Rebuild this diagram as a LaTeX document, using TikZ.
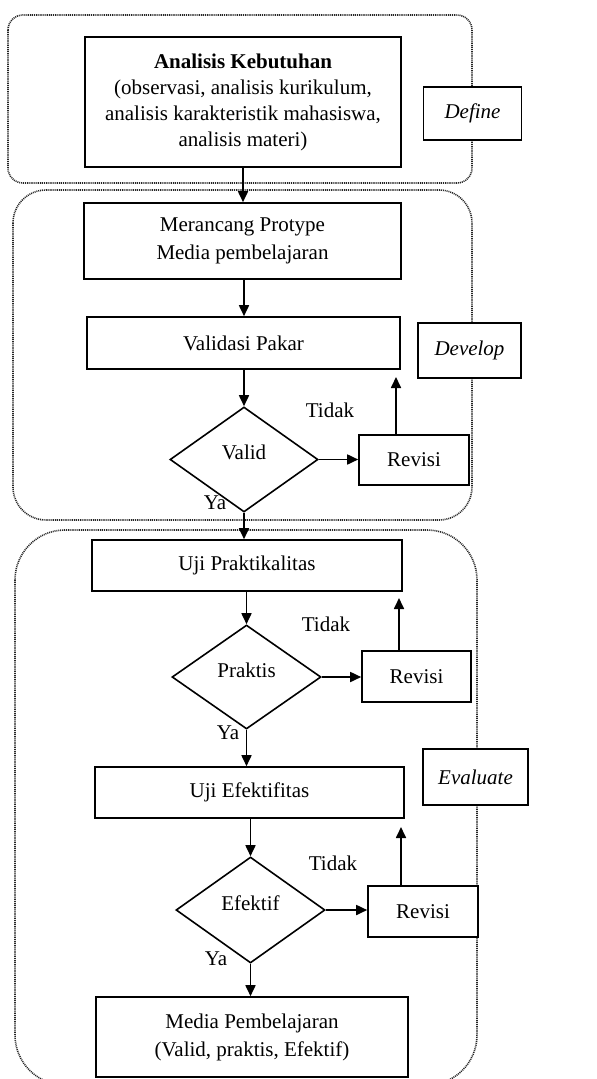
\documentclass[tikz,border=0pt]{standalone}
\usepackage{fontspec}
\setmainfont{Liberation Serif}
\usetikzlibrary{arrows.meta,shapes.geometric}
\begin{document}
\begin{tikzpicture}[x=1pt,y=-1pt,
  font=\fontsize{21}{26}\selectfont,
  box/.style={draw, line width=1.6pt, fill=white, rectangle, inner sep=0pt, align=center},
  dia/.style={draw, line width=1.6pt, fill=white, diamond, inner sep=0pt},
  phase/.style={draw, line width=1.5pt, fill=white, rectangle, inner sep=0pt, font=\fontsize{21}{26}\selectfont\itshape},
  arr/.style={line width=1.7pt, -{Triangle[length=11pt,width=10pt]}},
  outer/.style={dash pattern=on 1pt off 0.9pt, line width=1.6pt, draw=black!85},
  lbl/.style={inner sep=0pt}]
\useasboundingbox (0,0) rectangle (597,1079);
% outer phase containers
\draw[outer, rounded corners=15pt] (8,15) rectangle (472,183);
\draw[outer, rounded corners=33pt] (13,190) rectangle (472,520);
\draw[outer, rounded corners=50pt] (15,530) rectangle (477,1085);
% phase labels
\node[phase, minimum width=98pt, minimum height=53pt] (define) at (472.5,113.5) {Define};
\node[phase, minimum width=103pt, minimum height=55pt] (develop) at (469.5,350.5) {Develop};
\node[phase, minimum width=105pt, minimum height=56pt] (evaluate) at (475.5,777) {Evaluate};
% main boxes
\node[box, minimum width=316pt, minimum height=130pt] (ana) at (243,102)
  {\textbf{Analisis Kebutuhan}\\(observasi, analisis kurikulum,\\analisis karakteristik mahasiswa,\\analisis materi)};
\node[box, minimum width=317pt, minimum height=76pt, font=\fontsize{21}{28}\selectfont] (mer) at (242.5,241)
  {Merancang Protype\\Media pembelajaran};
\node[box, minimum width=313pt, minimum height=52pt] (vp) at (243.5,343) {Validasi Pakar};
\node[dia, minimum width=148pt, minimum height=105pt, label={[yshift=7pt]center:Valid}] (val) at (244,459.5) {};
\node[box, minimum width=110pt, minimum height=50pt] (rev1) at (414,460) {Revisi};
\node[box, minimum width=310pt, minimum height=51pt] (up) at (247,565.5) {Uji Praktikalitas};
\node[dia, minimum width=149pt, minimum height=104pt, label={[yshift=7pt]center:Praktis}] (pra) at (246.5,677) {};
\node[box, minimum width=109pt, minimum height=51pt] (rev2) at (416.5,676.5) {Revisi};
\node[box, minimum width=309pt, minimum height=51pt] (ue) at (249.5,792.5) {Uji Efektifitas};
\node[dia, minimum width=149pt, minimum height=106pt, label={[yshift=7pt]center:Efektif}] (efe) at (250.5,910) {};
\node[box, minimum width=110pt, minimum height=51pt] (rev3) at (423,911.5) {Revisi};
\node[box, minimum width=312pt, minimum height=80pt, font=\fontsize{21}{28}\selectfont] (med) at (252,1037)
  {Media Pembelajaran\\(Valid, praktis, Efektif)};
% labels
\node[lbl] (t1) at (330,410) {Tidak};
\node[lbl] (t2) at (326,624) {Tidak};
\node[lbl] (t3) at (333,863) {Tidak};
\node[lbl] (y1) at (215,503) {Ya};
\node[lbl] (y2) at (228,733) {Ya};
\node[lbl] (y3) at (216,959) {Ya};
% return arrow ends
\coordinate (r1) at (396,377);
\coordinate (r2) at (399,598);
\coordinate (r3) at (401,827);
% connectors
\draw[arr] (ana.south) -- (ana.south |- mer.north);
\draw[arr] (val.north |- mer.south) -- (val.north |- vp.north) ;
\draw[arr] (val.north |- vp.south) -- (val.north);
\draw[arr] (val.east) -- (rev1.west |- val.east);
\draw[arr] (rev1.north -| r1) -- (r1);
\draw[arr] (val.south) -- (val.south |- up.north);
\draw[arr] (pra.north |- up.south) -- (pra.north);
\draw[arr] (pra.east) -- (rev2.west |- pra.east);
\draw[arr] (rev2.north -| r2) -- (r2);
\draw[arr] (pra.south) -- (pra.south |- ue.north);
\draw[arr] (efe.north |- ue.south) -- (efe.north);
\draw[arr] (efe.east) -- (rev3.west |- efe.east);
\draw[arr] (rev3.north -| r3) -- (r3);
\draw[arr] (efe.south) -- (efe.south |- med.north);
\end{tikzpicture}
\end{document}
